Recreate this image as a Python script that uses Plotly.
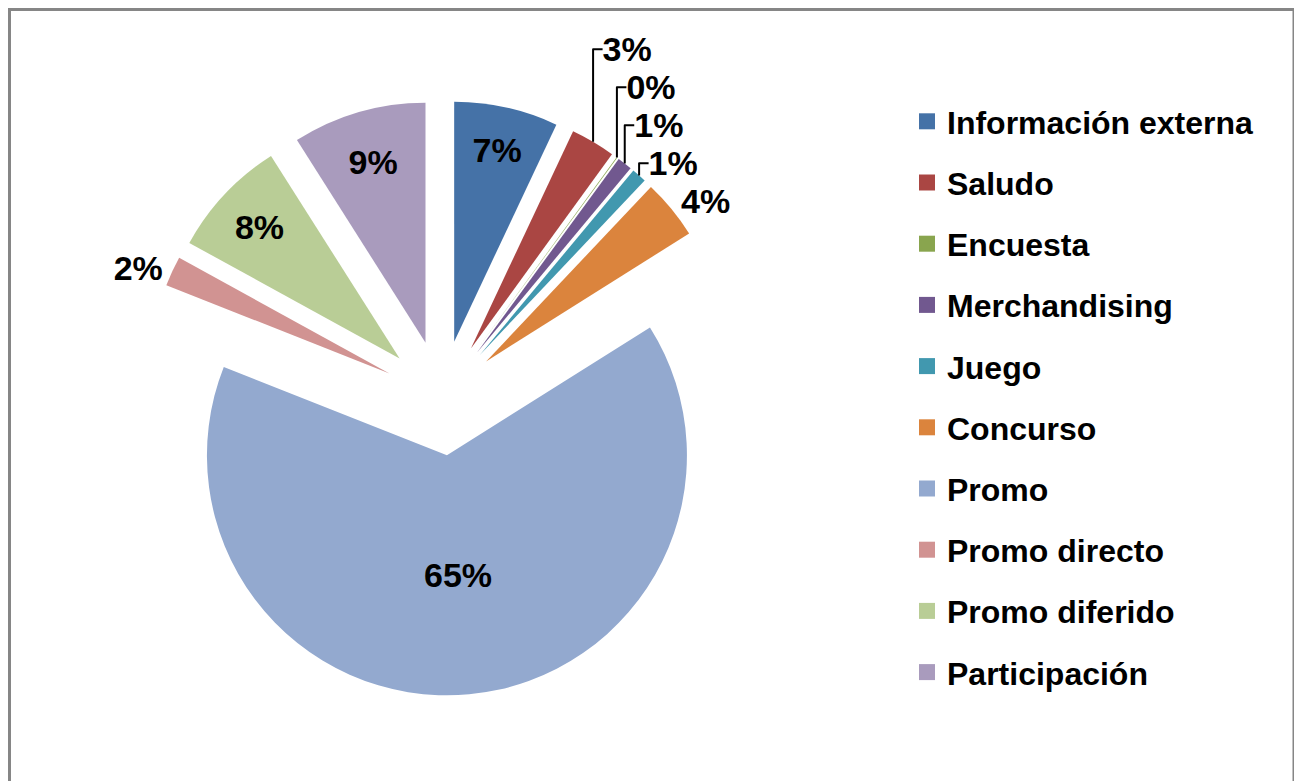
import plotly.graph_objects as go

categories = ["Información externa", "Saludo", "Encuesta", "Merchandising", "Juego",
              "Concurso", "Promo", "Promo directo", "Promo diferido", "Participación"]
values = [7, 3, 0.05, 1, 1, 4, 64.95, 2, 8, 9]
colors = ["#4572A7", "#AA4643", "#89A54E", "#71588F", "#4198AF",
          "#DB843D", "#93A9CF", "#D19392", "#B9CD96", "#A99BBD"]
label_pos = ["inside", "outside", "outside", "outside", "outside",
             "outside", "inside", "outside", "inside", "inside"]

W, H = 1302, 781
cx, cy, r, pull = 433.6, 390.0, 240.0, 0.24
half = r * (1 + pull)

fig = go.Figure()
fig.add_trace(go.Pie(
    labels=categories, values=values, sort=False, direction="clockwise", rotation=0,
    marker=dict(colors=colors, line=dict(width=0)),
    pull=[pull] * len(values),
    textposition=label_pos,
    texttemplate="%{percent:.0%}",
    insidetextorientation="horizontal",
    textfont=dict(family="Liberation Sans, Arial", size=34, color="black", weight="bold"),
    showlegend=False,
    automargin=False,
    domain=dict(x=[(cx - half) / W, (cx + half) / W], y=[1 - (cy + half) / H, 1 - (cy - half) / H]),
    hoverinfo="label+percent",
))

for name, col in zip(categories, colors):
    fig.add_trace(go.Scatter(
        x=[None], y=[None], mode="markers", name=name, legendgroup=name,
        marker=dict(symbol="square", size=16, color=col),
        showlegend=True,
    ))

fig.update_layout(
    width=W, height=H, autosize=False,
    margin=dict(l=0, r=0, t=0, b=0, pad=0, autoexpand=False),
    paper_bgcolor="white", plot_bgcolor="white",
    xaxis=dict(visible=False), yaxis=dict(visible=False),
    legend=dict(
        x=899 / W, xanchor="left", y=1 - 86 / H, yanchor="top",
        traceorder="grouped", tracegroupgap=16.6,
        font=dict(family="Liberation Sans, Arial", size=32, color="black", weight="bold"),
        bgcolor="rgba(0,0,0,0)",
    ),
    shapes=[dict(type="rect", xref="paper", yref="paper",
                 x0=1.5 / W, x1=1286 / W, y0=-0.05, y1=1 - 1.5 / H,
                 line=dict(color="#868686", width=3), fillcolor="rgba(0,0,0,0)")],
)

fig.write_html("out.html")
